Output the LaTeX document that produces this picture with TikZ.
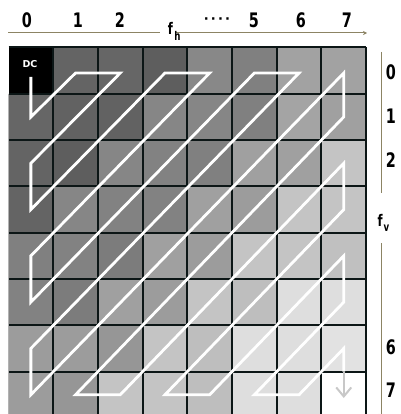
\documentclass[tikz,border=0pt]{standalone}
\usepackage{fontspec}
\newfontfamily\labfont{DejaVu Sans}
\newfontfamily\narrowfont{DejaVu Sans}[FakeStretch=0.72]
\usetikzlibrary{arrows.meta}
\definecolor{axc}{RGB}{140,132,100}
\definecolor{gridc}{RGB}{12,22,22}
\definecolor{arrc}{RGB}{200,200,200}
\tikzset{
  lab/.style={font=\narrowfont\bfseries\fontsize{20}{20}\selectfont, inner sep=0pt, text=black},
  flab/.style={font=\narrowfont\bfseries\fontsize{16}{16}\selectfont, inner sep=0pt, text=black},
  subl/.style={font=\narrowfont\bfseries\fontsize{12}{12}\selectfont, inner sep=0pt, text=black},
  zig/.style={draw=white, line width=2.8pt, line join=miter},
  axis/.style={draw=axc, line width=1pt},
  gridline/.style={draw=gridc, line width=2pt}
}
\begin{document}
\begin{tikzpicture}[x=1pt,y=-1pt]
\clip (0,0) rectangle (400,414);
\fill[white] (0,0) rectangle (400,414);
\def\gx{8.5}\def\gy{47.5}\def\cw{44.7}\def\ch{46.3}
% cells
\foreach \r/\vals in {
  0/{0,100,102,94,136,128,162,162},
  1/{102,98,98,134,134,128,164,160},
  2/{100,94,134,130,128,160,160,196},
  3/{100,134,130,130,160,156,196,196},
  4/{128,130,124,160,156,196,196,192},
  5/{130,124,160,156,196,190,222,222},
  6/{156,156,150,196,190,222,222,226},
  7/{156,150,196,196,190,222,222,255}}{
  \foreach \v [count=\c from 0] in \vals {
    \definecolor{cellc}{RGB}{\v,\v,\v}
    \fill[cellc] ({\gx+\c*\cw},{\gy+\r*\ch}) rectangle ++(\cw,\ch);
  }
}
% grid lines
\foreach \i in {1,...,8} \draw[gridline] ({\gx+\i*\cw},\gy) -- ({\gx+\i*\cw},420);
\foreach \j in {0,...,8} \draw[gridline] (\gx,{\gy+\j*\ch}) -- ({\gx+8*\cw},{\gy+\j*\ch});
\draw[draw=black!30, line width=1pt] (\gx,{\gy+\ch}) -- (\gx,420);
% coordinates at cell centres
\foreach \c in {0,...,7}{
  \foreach \r in {0,...,7}{
    \pgfmathsetmacro\yy{\r==0 ? 73 : \gy+(\r+0.5)*\ch}
    \coordinate (p\c\r) at ({\gx+(\c+0.5)*\cw},\yy);
  }
}
\coordinate (start) at ({\gx+0.5*\cw},77);
\coordinate (mid) at ({\gx+7.5*\cw},{\gy+7*\ch});
\coordinate (end) at ({\gx+7.5*\cw},398);
% zigzag
\draw[zig] (start) -- (p01) -- (p10) -- (p20) -- (p02) -- (p03) -- (p30) -- (p40)
  -- (p04) -- (p05) -- (p50) -- (p60) -- (p06) -- (p07) -- (p70) -- (p71)
  -- (p17) -- (p27) -- (p72) -- (p73) -- (p37) -- (p47) -- (p74) -- (p75)
  -- (p57) -- (p67) -- (p76) -- (mid);
\draw[draw=arrc, line width=2pt, -{Straight Barb[length=9pt,width=15pt,line width=2pt]}] (mid) -- (end);
% DC label
\node[font=\labfont\bfseries\fontsize{9.5}{9.5}\selectfont, text=white, inner sep=0pt] (dc) at (30,64) {DC};
% top axis
\coordinate (ta) at (8,33);
\coordinate (tb) at (160,33);
\coordinate (tc) at (175,33);
\coordinate (td) at (367,33);
\draw[axis] (ta) -- (tb);
\draw[axis, -{Stealth[length=4pt,width=4pt]}] (tc) -- (td);
\node[lab] (t0) at (27,20) {0};
\node[lab] (t1) at (78,20) {1};
\node[lab] (t2) at (120,20) {2};
\node[font=\labfont\bfseries\fontsize{13}{13}\selectfont, inner sep=0pt] (tdots) at (217,21) {·\,·\,·\,·};
\node[lab] (t5) at (254,20) {5};
\node[lab] (t6) at (301,20) {6};
\node[lab] (t7) at (347,20) {7};
\node[flab] (fh) at (170.5,28) {f};
\node[subl] (fhs) at (177.5,36) {h};
% right axis
\coordinate (ra) at (381,52);
\coordinate (rb) at (381,193);
\coordinate (rc) at (381,243);
\coordinate (rd) at (381,418);
\draw[axis] (ra) -- (rb);
\draw[axis, -{Stealth[length=4pt,width=4pt]}] (rc) -- (rd);
\node[lab] (r0) at (391,72) {0};
\node[lab] (r1) at (391,116) {1};
\node[lab] (r2) at (391,160) {2};
\node[lab] (r6) at (391,347) {6};
\node[lab] (r7) at (391,390) {7};
\node[flab] (fv) at (380,220) {f};
\node[subl] (fvs) at (386.5,228) {v};
\end{tikzpicture}
\end{document}
